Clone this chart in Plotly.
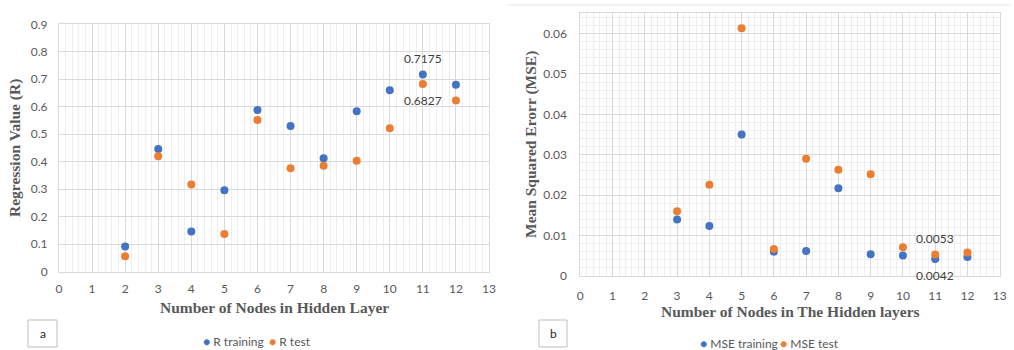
import plotly.graph_objects as go

W, H = 1014, 350

nodes_r = [2, 3, 4, 5, 6, 7, 8, 9, 10, 11, 12]
r_training = [0.092, 0.446, 0.146, 0.296, 0.588, 0.530, 0.413, 0.584, 0.660, 0.7175, 0.680]
r_test = [0.056, 0.420, 0.317, 0.137, 0.552, 0.376, 0.385, 0.404, 0.522, 0.6827, 0.623]

nodes_mse = [3, 4, 5, 6, 7, 8, 9, 10, 11, 12]
mse_training = [0.0140, 0.0124, 0.0350, 0.0060, 0.0062, 0.0217, 0.0054, 0.0051, 0.0042, 0.0047]
mse_test = [0.0160, 0.0226, 0.0613, 0.0067, 0.0290, 0.0263, 0.0252, 0.0071, 0.0053, 0.0058]

x_ticks = list(range(0, 14))
series_names = ["R training", "R test", "MSE training", "MSE test"]

BLUE = "#4472C4"
ORANGE = "#ED7D31"
GRAY_TXT = "#595959"
GRID = "#d9d9d9"
MINOR = "#eeeeee"
TICKFONT = dict(family="Lato, Open Sans, sans-serif", size=12, color=GRAY_TXT)
TITLEFONT = dict(family="Liberation Serif, Times New Roman, serif", size=15.5, color=GRAY_TXT)
LEGFONT = dict(family="Lato, DejaVu Sans, sans-serif", size=12, color=GRAY_TXT)


def px_x(p):
    return p / W


def px_y(p):
    return 1 - p / H


fig = go.Figure()

fig.add_trace(go.Scatter(x=nodes_r, y=r_training, mode="markers", name=series_names[0],
                         marker=dict(color=BLUE, size=8), xaxis="x", yaxis="y"))
fig.add_trace(go.Scatter(x=nodes_r, y=r_test, mode="markers", name=series_names[1],
                         marker=dict(color=ORANGE, size=8), xaxis="x", yaxis="y"))
fig.add_trace(go.Scatter(x=nodes_mse, y=mse_training, mode="markers", name=series_names[2],
                         marker=dict(color=BLUE, size=8), xaxis="x2", yaxis="y2"))
fig.add_trace(go.Scatter(x=nodes_mse, y=mse_test, mode="markers", name=series_names[3],
                         marker=dict(color=ORANGE, size=8), xaxis="x2", yaxis="y2"))

common_x = dict(range=[0, 13], tickmode="array", tickvals=x_ticks, showgrid=True, gridcolor=GRID,
                gridwidth=1, showline=True, linecolor=GRID, mirror=True, zeroline=False,
                tickfont=TICKFONT, ticks="", fixedrange=True, automargin=False,
                minor=dict(dtick=0.2, showgrid=True, gridcolor=MINOR, gridwidth=1))

fig.update_layout(
    width=W, height=H,
    margin=dict(l=0, r=0, t=0, b=0, autoexpand=False),
    paper_bgcolor="white", plot_bgcolor="white",
    showlegend=False,
    xaxis=dict(domain=[px_x(59), px_x(489)], anchor="y", ticklabelstandoff=6, **common_x),
    yaxis=dict(domain=[px_y(271.7), px_y(24.3)], anchor="x", range=[0, 0.9], dtick=0.1,
               showgrid=True, gridcolor=GRID, showline=True, linecolor=GRID, mirror=True,
               zeroline=False, tickfont=TICKFONT, ticks="", ticklabelstandoff=8, automargin=False,
               fixedrange=True),
    xaxis2=dict(domain=[px_x(580.3), px_x(999.7)], anchor="y2", ticklabelstandoff=9, **common_x),
    yaxis2=dict(domain=[px_y(276), px_y(13.3)], anchor="x2", range=[0, 0.065],
                tickvals=[0, 0.01, 0.02, 0.03, 0.04, 0.05, 0.06],
                ticktext=["0", "0.01", "0.02", "0.03", "0.04", "0.05", "0.06"],
                showgrid=True, gridcolor=GRID, showline=True, linecolor=GRID, mirror=True,
                zeroline=False, tickfont=TICKFONT, ticks="", ticklabelstandoff=10, automargin=False,
                fixedrange=True,
                minor=dict(dtick=0.002, tick0=0, showgrid=True, gridcolor=MINOR, gridwidth=1)),
)

LABELFONT = dict(family="Lato, sans-serif", size=12, color="#404040")


def legend_item(name, color, x, y):
    return dict(text=f'<span style="color:{color}">●</span> {name}', x=px_x(x), y=px_y(y),
                xref="paper", yref="paper", showarrow=False, xanchor="left", yanchor="middle",
                font=LEGFONT)


annotations = [
    # axis titles
    dict(text="<b>Number of Nodes in Hidden Layer</b>", x=px_x(274), y=px_y(307), xref="paper", yref="paper",
         showarrow=False, font=TITLEFONT, xanchor="center", yanchor="middle"),
    dict(text="<b>Regression Value (R)</b>", x=px_x(15), y=px_y(148), xref="paper", yref="paper",
         showarrow=False, font=TITLEFONT, textangle=-90, xanchor="center", yanchor="middle"),
    dict(text="<b>Number of Nodes in The Hidden layers</b>", x=px_x(790), y=px_y(311), xref="paper", yref="paper",
         showarrow=False, font=TITLEFONT, xanchor="center", yanchor="middle"),
    dict(text="<b>Mean Squared Erorr (MSE)</b>", x=px_x(531), y=px_y(145), xref="paper", yref="paper",
         showarrow=False, font=TITLEFONT, textangle=-90, xanchor="center", yanchor="middle"),
    # data labels
    dict(text=f"{r_training[9]:.4f}", x=nodes_r[9], y=r_training[9], xref="x", yref="y",
         showarrow=False, yshift=16, font=LABELFONT),
    dict(text=f"{r_test[9]:.4f}", x=nodes_r[9], y=r_test[9], xref="x", yref="y",
         showarrow=False, yshift=-16, font=LABELFONT),
    dict(text=f"{mse_test[8]:.4f}", x=nodes_mse[8], y=mse_test[8], xref="x2", yref="y2",
         showarrow=False, yshift=16, font=LABELFONT),
    dict(text=f"{mse_training[8]:.4f}", x=nodes_mse[8], y=mse_training[8], xref="x2", yref="y2",
         showarrow=False, yshift=-16, font=LABELFONT),
    # panel letters
    dict(text="a", x=px_x(42.5), y=px_y(333.5), xref="paper", yref="paper", showarrow=False,
         xanchor="center", yanchor="middle", font=dict(family="Lato, sans-serif", size=12, color="#262626")),
    dict(text="b", x=px_x(553), y=px_y(333.5), xref="paper", yref="paper", showarrow=False,
         xanchor="center", yanchor="middle", font=dict(family="Lato, sans-serif", size=12, color="#262626")),
    # legends
    legend_item(series_names[0], BLUE, 201, 341),
    legend_item(series_names[1], ORANGE, 267, 341),
    legend_item(series_names[2], BLUE, 698, 343),
    legend_item(series_names[3], ORANGE, 778, 343),
]
fig.update_layout(annotations=annotations)

shapes = [
    dict(type="rect", xref="paper", yref="paper", x0=px_x(28), x1=px_x(57), y0=px_y(347), y1=px_y(320),
         line=dict(color="#bfbfbf", width=1)),
    dict(type="rect", xref="paper", yref="paper", x0=px_x(539), x1=px_x(567), y0=px_y(347), y1=px_y(320),
         line=dict(color="#bfbfbf", width=1)),
    dict(type="line", xref="paper", yref="paper", x0=px_x(508), x1=px_x(1010), y0=px_y(5), y1=px_y(5),
         line=dict(color="#e6e6e6", width=1)),
]
fig.update_layout(shapes=shapes)

fig.write_html(
    "out.html",
    config={"displayModeBar": False},
    post_script="document.body.style.margin='0px';document.body.style.overflow='hidden';",
)
